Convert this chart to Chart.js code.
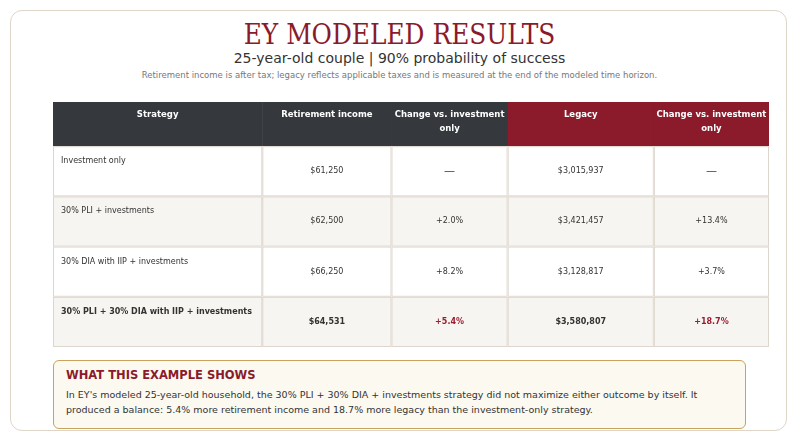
<!DOCTYPE html>
<html><head><meta charset="utf-8">
<script src="https://cdn.jsdelivr.net/npm/chart.js@4"></script>
<style>
body{margin:0;background:#fff;font-family:"DejaVu Sans",sans-serif;width:799px;height:444px;overflow:hidden;position:relative}
.card{position:absolute;left:10px;top:10px;width:777px;height:421px;border:1.5px solid #ddd6c8;border-radius:12px;box-sizing:border-box}
h1{position:absolute;left:0;width:799px;top:19px;margin:0;text-align:center;font:400 27px "DejaVu Serif",serif;color:#8b1a2b;transform:scaleX(.92)}
.sub{position:absolute;left:0;width:799px;top:50px;text-align:center;font-size:14px;color:#333}
.note{position:absolute;left:0;width:799px;top:70px;text-align:center;font-size:8.5px;color:#777}
#wrap{position:absolute;left:53px;top:102px;width:716px;height:245px}
.box{position:absolute;left:53px;top:360px;width:693px;height:69px;box-sizing:border-box;border:1.5px solid #c9a25e;border-radius:6px;background:#fcf9f1;padding:7px 12px}
.box b{display:block;color:#8b1a2b;font-size:11.5px;margin-bottom:5px}
.box p{margin:0;font-size:9.5px;line-height:15px;color:#333}
</style></head><body>
<div class="card"></div>
<h1>EY MODELED RESULTS</h1>
<div class="sub">25-year-old couple | 90% probability of success</div>
<div class="note">Retirement income is after tax; legacy reflects applicable taxes and is measured at the end of the modeled time horizon.</div>
<div id="wrap"><canvas id="c"></canvas></div>
<div class="box"><b>WHAT THIS EXAMPLE SHOWS</b><p>In EY's modeled 25-year-old household, the 30% PLI + 30% DIA + investments strategy did not maximize either outcome by itself. It produced a balance: 5.4% more retirement income and 18.7% more legacy than the investment-only strategy.</p></div>
<script>
const headers = ['Strategy', 'Retirement income', 'Change vs. investment\nonly', 'Legacy', 'Change vs. investment\nonly'];
const strategies = ['Investment only', '30% PLI + investments', '30% DIA with IIP + investments', '30% PLI + 30% DIA with IIP + investments'];
const income = ['$61,250', '$62,500', '$66,250', '$64,531'];
const incomeChange = ['—', '+2.0%', '+8.2%', '+5.4%'];
const legacy = ['$3,015,937', '$3,421,457', '$3,128,817', '$3,580,807'];
const legacyChange = ['—', '+13.4%', '+3.7%', '+18.7%'];

// layout of the grid (scale units)
const colEdges = [0, 209, 338, 454, 600, 715];
const rowEdges = [0, 44, 94, 144, 194, 244];

const columns = [strategies, income, incomeChange, legacy, legacyChange];
const points = [];
columns.forEach((col, c) => col.forEach((v, r) => points.push({ x: (colEdges[c] + colEdges[c + 1]) / 2, y: (rowEdges[r + 1] + rowEdges[r + 2]) / 2 })));

const tablePlugin = {
  id: 'table',
  afterDatasetsDraw(chart) {
    const ctx = chart.ctx, xs = chart.scales.x, ys = chart.scales.y;
    const X = v => xs.getPixelForValue(v), Y = v => ys.getPixelForValue(v);
    ctx.save();
    // header
    headers.forEach((h, c) => {
      const x0 = X(colEdges[c]), x1 = X(colEdges[c + 1]);
      ctx.fillStyle = c >= 3 ? '#8b1a2b' : '#35383d';
      ctx.fillRect(x0, Y(rowEdges[0]), x1 - x0 + 0.5, Y(rowEdges[1]) - Y(rowEdges[0]));
      ctx.fillStyle = '#fff';
      ctx.font = 'bold 8.5px "DejaVu Sans"';
      ctx.textAlign = 'center';
      ctx.textBaseline = 'middle';
      h.split('\n').forEach((ln, i) => ctx.fillText(ln, (x0 + x1) / 2, Y(rowEdges[0]) + 13 + i * 14));
    });
    // body
    strategies.forEach((s, r) => {
      const y0 = Y(rowEdges[r + 1]), y1 = Y(rowEdges[r + 2]);
      const last = r === strategies.length - 1;
      columns.forEach((col, c) => {
        const x0 = X(colEdges[c]), x1 = X(colEdges[c + 1]);
        ctx.fillStyle = r % 2 ? '#f7f5f1' : '#ffffff';
        ctx.fillRect(x0, y0, x1 - x0, y1 - y0);
        ctx.strokeStyle = '#ddd6cc';
        ctx.lineWidth = 1;
        ctx.strokeRect(x0 + 0.5, y0 + 0.5, x1 - x0 - 1, y1 - y0 - 1);
        const v = col[r];
        const red = last && (c === 2 || c === 4);
        ctx.fillStyle = red ? '#9b1c30' : '#333';
        ctx.font = (last ? 'bold ' : '') + (v === '—' ? '11px' : '8px') + ' "DejaVu Sans"';
        if (c === 0) {
          ctx.textAlign = 'left'; ctx.textBaseline = 'top';
          ctx.fillText(v, x0 + 8, y0 + 11);
        } else {
          ctx.textAlign = 'center'; ctx.textBaseline = 'middle';
          ctx.fillText(v, (x0 + x1) / 2, y0 + 25);
        }
      });
    });
    ctx.restore();
  }
};

new Chart(document.getElementById('c'), {
  type: 'scatter',
  data: { datasets: [{ data: points, pointRadius: 0 }] },
  options: {
    responsive: true, maintainAspectRatio: false, animation: false,
    layout: { padding: 0 },
    plugins: { legend: { display: false }, tooltip: { enabled: false } },
    scales: {
      x: { type: 'linear', display: false, min: colEdges[0], max: colEdges[colEdges.length - 1] },
      y: { type: 'linear', display: false, reverse: true, min: rowEdges[0], max: rowEdges[rowEdges.length - 1] }
    }
  },
  plugins: [tablePlugin]
});
</script>
</body></html>
